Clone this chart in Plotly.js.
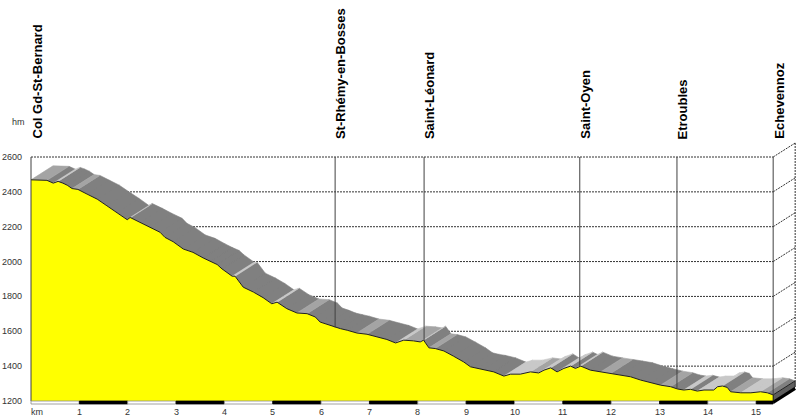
<!DOCTYPE html>
<html>
<head>
<meta charset="utf-8">
<script src="https://cdn.plot.ly/plotly-3.0.1.min.js"></script>
<style>html,body{margin:0;padding:0;background:#fff;}#chart{width:800px;height:416px;}</style>
</head>
<body>
<div id="chart"></div>
<script>
// ---- data ----
const distKm = [0,0.33,0.46,0.56,0.66,0.75,0.85,0.97,1.16,1.37,1.57,1.78,1.99,2.05,2.26,2.46,2.67,2.77,2.94,3.15,3.35,3.56,3.71,3.85,3.95,4.16,4.22,4.39,4.60,4.80,4.98,5.09,5.29,5.50,5.71,5.88,5.98,6.12,6.26,6.40,6.54,6.74,6.95,7.16,7.36,7.54,7.71,7.91,8.05,8.12,8.23,8.36,8.54,8.74,8.95,9.09,9.23,9.36,9.57,9.78,9.92,10.12,10.33,10.50,10.61,10.75,10.88,11.02,11.16,11.26,11.37,11.57,11.78,11.99,12.19,12.40,12.61,12.82,13.02,13.23,13.37,13.50,13.64,13.78,13.92,14.12,14.20,14.30,14.40,14.47,14.68,14.89,15.09,15.23,15.35];
const elevM = [2469,2466,2450,2460,2450,2438,2419,2414,2387,2358,2320,2282,2240,2253,2225,2196,2168,2139,2114,2072,2053,2021,2000,1983,1958,1916,1916,1853,1825,1793,1758,1767,1730,1705,1701,1682,1653,1640,1624,1615,1606,1590,1583,1567,1553,1533,1549,1545,1539,1549,1505,1501,1487,1457,1424,1396,1387,1381,1367,1343,1354,1354,1367,1361,1377,1390,1367,1387,1400,1387,1400,1377,1367,1358,1349,1339,1320,1305,1291,1282,1269,1263,1267,1257,1263,1263,1282,1286,1278,1253,1247,1247,1253,1247,1235];
const placeNames = ["Col Gd-St-Bernard","St-Rhémy-en-Bosses","Saint-Léonard","Saint-Oyen","Etroubles","Echevennoz"];
const placeKm = [0, 6.29, 8.13, 11.35, 13.36, 15.35];
const yTicks = [1200,1400,1600,1800,2000,2200,2400,2600];
const xTicks = [1,2,3,4,5,6,7,8,9,10,11,12,13,14,15];

// ---- geometry (layout) ----
const W = 800, H = 416;
const x0px = 31, pxPerKm = 48.35;
const yTopPx = 157, yBotPx = 401;
const pxPerM = (yBotPx - yTopPx) / 1400;
const xRange = [-x0px / pxPerKm, (W - x0px) / pxPerKm];
const yRange = [1200 - (H - yBotPx) / pxPerM, 2600 + yTopPx / pxPerM];
const dx = 22 / pxPerKm, dy = 14 / pxPerM;   // 3D offset
const endKm = distKm[distKm.length - 1], endEl = elevM[elevM.length - 1];

function elevAt(k) {
  for (let i = 0; i < distKm.length - 1; i++) {
    if (k >= distKm[i] && k <= distKm[i + 1]) {
      const t = (k - distKm[i]) / (distKm[i + 1] - distKm[i]);
      return elevM[i] + t * (elevM[i + 1] - elevM[i]);
    }
  }
  return elevM[elevM.length - 1];
}

// ribbon parallelograms grouped by shade
const shades = {dark: {x: [], y: [], c: '#808080'}, mid: {x: [], y: [], c: '#a4a4a4'}, light: {x: [], y: [], c: '#c8c8c8'}};
for (let i = 0; i < distKm.length - 1; i++) {
  const s = (elevM[i + 1] - elevM[i]) / (distKm[i + 1] - distKm[i]);
  const g = s >= -5 ? shades.light : (s > -45 ? shades.mid : shades.dark);
  g.x.push(distKm[i], distKm[i + 1], distKm[i + 1] + dx, distKm[i] + dx, distKm[i], null);
  g.y.push(elevM[i], elevM[i + 1], elevM[i + 1] + dy, elevM[i] + dy, elevM[i], null);
}
const traces = [];
['dark', 'mid', 'light'].forEach(k => {
  const g = shades[k];
  traces.push({type: 'scatter', mode: 'lines', x: g.x, y: g.y, fill: 'toself', fillcolor: g.c,
    line: {color: g.c, width: 0.6}, hoverinfo: 'skip', connectgaps: false});
});
// right side face
traces.push({type: 'scatter', mode: 'lines',
  x: [endKm, endKm, endKm + dx, endKm + dx, endKm],
  y: [1200, endEl, endEl + dy, 1200 + dy, 1200],
  fill: 'toself', fillcolor: '#5e5e5e', line: {color: '#202020', width: 1}, hoverinfo: 'skip'});
// yellow front face
traces.push({type: 'scatter', mode: 'lines',
  x: [0].concat(distKm, [endKm, 0]),
  y: [1200].concat(elevM, [1200, 1200]),
  fill: 'toself', fillcolor: '#ffff00', line: {width: 0}, hoverinfo: 'skip'});
// profile outline
traces.push({type: 'scatter', mode: 'lines', x: distKm.concat([endKm]), y: elevM.concat([1200]),
  line: {color: '#202020', width: 1}, hoverinfo: 'skip'});

// ---- shapes ----
const shapes = [];
yTicks.slice(1).forEach(t => {
  shapes.push({type: 'line', layer: 'below', xref: 'x', yref: 'y', x0: 0, x1: endKm, y0: t, y1: t,
    line: {color: '#333', width: 1, dash: '2px,1px'}});
  shapes.push({type: 'line', layer: 'below', xref: 'x', yref: 'y', x0: endKm, x1: endKm + dx, y0: t, y1: t + dy,
    line: {color: '#333', width: 1, dash: '2px,1px'}});
});
shapes.push({type: 'line', layer: 'below', xref: 'x', yref: 'y', x0: endKm + dx, x1: endKm + dx, y0: 2600 + dy, y1: endEl + dy,
  line: {color: '#333', width: 1, dash: '2px,1px'}});
// location lines
placeKm.forEach((k, i) => {
  const yb = i === 0 ? 1200 : elevAt(k);
  shapes.push({type: 'line', layer: 'above', xref: 'x', yref: 'y', x0: k, x1: k, y0: yb, y1: 2600,
    line: {color: '#404040', width: 1}});
});
// km bar
const barH = 3 / pxPerM;
for (let k = 0; k < Math.ceil(endKm); k++) {
  const odd = k % 2 === 1;
  shapes.push({type: 'rect', layer: 'above', xref: 'x', yref: 'y', x0: k, x1: Math.min(k + 1, endKm),
    y0: 1200 - barH, y1: 1200, fillcolor: odd ? '#000' : '#fff', line: {color: odd ? '#000' : '#8a8a8a', width: 0.8}});
}
shapes.push({type: 'line', layer: 'above', xref: 'x', yref: 'y', x0: endKm, x1: endKm + dx, y0: 1200 - barH / 2, y1: 1200 - barH / 2 + dy,
  line: {color: '#000', width: 3}});

// ---- annotations ----
const annotations = [];
placeNames.forEach((n, i) => {
  annotations.push({x: placeKm[i], y: 2600, xref: 'x', yref: 'y', text: '<b>' + n + '</b>', showarrow: false,
    textangle: -90, xanchor: 'center', yanchor: 'bottom', xshift: 5.5, yshift: 16,
    font: {family: 'Liberation Sans, Arial, sans-serif', size: 13, color: '#000'}});
});
yTicks.forEach(t => {
  annotations.push({x: 24 / W, y: t, xref: 'paper', yref: 'y', text: String(t), showarrow: false,
    xanchor: 'right', yanchor: 'middle', font: {family: 'Liberation Sans, Arial, sans-serif', size: 9, color: '#333'}});
});
xTicks.forEach(t => {
  annotations.push({x: t, y: 1 - 411.5 / H, xref: 'x', yref: 'paper', text: String(t), showarrow: false,
    xanchor: 'center', yanchor: 'middle', font: {family: 'Liberation Sans, Arial, sans-serif', size: 9, color: '#333'}});
});
annotations.push({x: 37 / W, y: 1 - 411.5 / H, xref: 'paper', yref: 'paper', text: 'km', showarrow: false,
  xanchor: 'center', yanchor: 'middle', font: {family: 'Liberation Sans, Arial, sans-serif', size: 9, color: '#333'}});
annotations.push({x: 18 / W, y: 1 - 122 / H, xref: 'paper', yref: 'paper', text: 'hm', showarrow: false,
  xanchor: 'center', yanchor: 'middle', font: {family: 'Liberation Sans, Arial, sans-serif', size: 9, color: '#333'}});

const layout = {
  width: W, height: H, margin: {l: 0, r: 0, t: 0, b: 0},
  paper_bgcolor: '#fff', plot_bgcolor: '#fff', showlegend: false,
  xaxis: {range: xRange, visible: false, fixedrange: true},
  yaxis: {range: yRange, visible: false, fixedrange: true},
  shapes: shapes, annotations: annotations
};
Plotly.newPlot('chart', traces, layout, {staticPlot: true, displayModeBar: false});
</script>
</body>
</html>
